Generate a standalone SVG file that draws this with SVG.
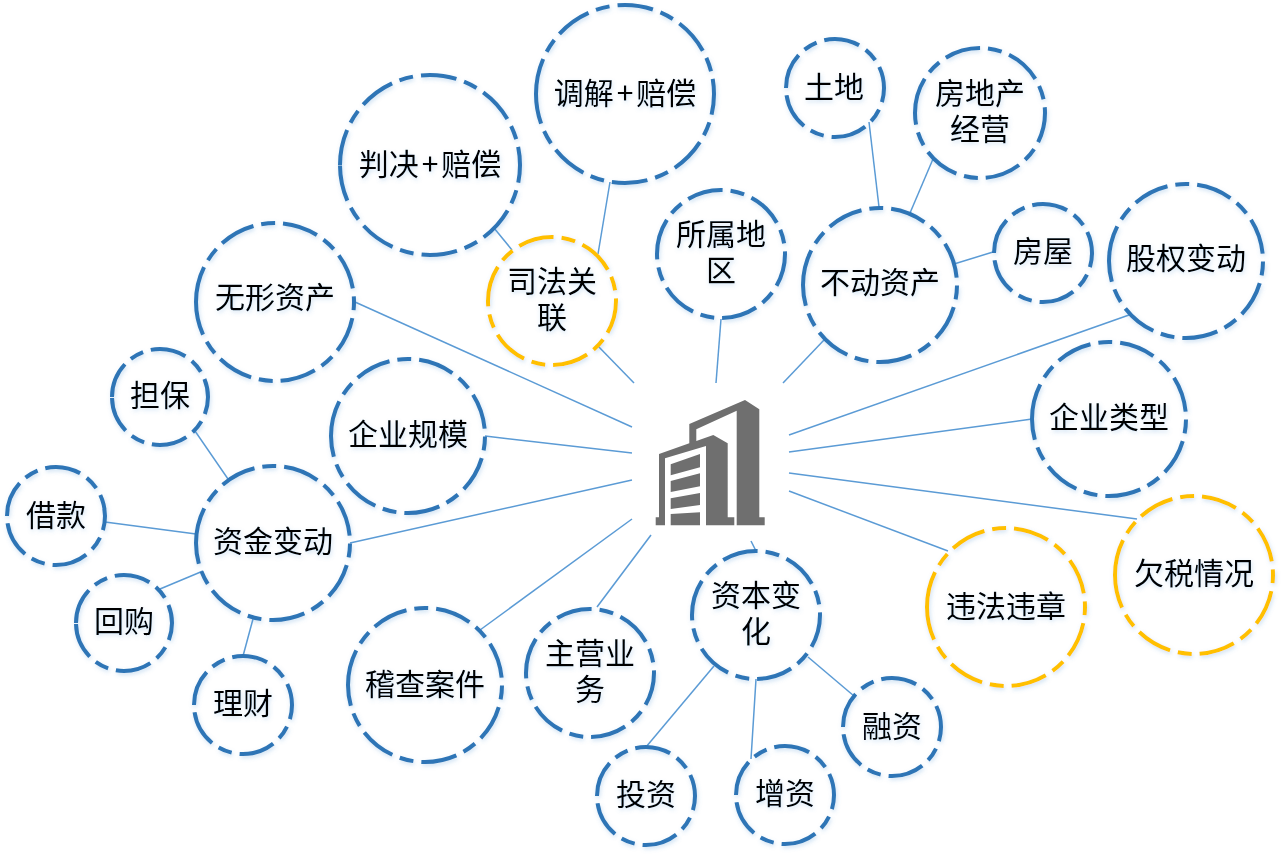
<svg xmlns="http://www.w3.org/2000/svg" width="1282" height="856" viewBox="0 0 1282 856">
<defs><filter id="s" x="-20%" y="-20%" width="140%" height="140%"><feDropShadow dx="1" dy="2" stdDeviation="2" flood-color="#5b9bd5" flood-opacity="0.3"/></filter></defs>
<style>
.n circle{fill:none;stroke:#2e75b6;stroke-width:4;stroke-dasharray:36 8 14 8}
.y circle{stroke:#ffc000}
.n{filter:url(#s)}
.n text{font-family:"Noto Sans CJK SC","Noto Sans",sans-serif;font-size:30px;fill:#000;text-anchor:middle}
#connectors line{stroke:#5b9bd5;stroke-width:1.5;fill:none}
</style>
<rect width="1282" height="856" fill="#fff"/>
<g id="connectors">
<line x1="597" y1="345" x2="634" y2="383"/><line x1="721" y1="319" x2="716" y2="383"/><line x1="824" y1="340" x2="783" y2="383"/><line x1="1129" y1="315" x2="789" y2="435"/><line x1="1032" y1="419" x2="789" y2="452"/><line x1="1137" y1="519" x2="789" y2="473"/><line x1="948" y1="551" x2="789" y2="491"/><line x1="756" y1="551" x2="751" y2="541"/><line x1="597" y1="607" x2="651" y2="535"/><line x1="480" y1="630" x2="632" y2="519"/><line x1="350" y1="543" x2="632" y2="480"/><line x1="485" y1="436" x2="632" y2="453"/><line x1="355" y1="302" x2="632" y2="427"/>
<line x1="494" y1="228" x2="512" y2="250"/><line x1="610" y1="182" x2="598" y2="254"/><line x1="869" y1="122" x2="879" y2="207"/><line x1="933" y1="159" x2="910" y2="213"/><line x1="993" y1="252" x2="954" y2="264"/><line x1="195" y1="431" x2="228" y2="479"/><line x1="105" y1="522" x2="196" y2="534"/><line x1="160" y1="589" x2="203" y2="571"/><line x1="243" y1="656" x2="253" y2="619"/><line x1="646" y1="747" x2="714" y2="666"/><line x1="751" y1="759" x2="756" y2="679"/><line x1="854" y1="696" x2="808" y2="657"/>
</g>
<path id="hub" fill="#6f6f6f" fill-rule="evenodd" d="M655.7 525.3V517.3H659V454L689.3 443.3V424L745 400L759.3 409.3V517.3H764.7V525.3H736.7V410.7L696.3 429.3V441L713.3 435L727.7 443.3V517.3H734.3V525.3H706V446L665 458.3V525.3ZM670.7 464.3L700 454V467.3L670.7 475.3ZM670.7 481L700 473.3V486.3L670.7 492ZM670.7 498.3L700 493V505L670.7 509ZM670.7 514L700 512.3V525.3H670.7Z"/>
<g id="n1" class="n"><circle cx="625" cy="94" r="89" transform="rotate(180 625 94)"/><text x="625" y="104">调解<tspan dx="3">+</tspan><tspan dx="3">赔偿</tspan></text></g>
<g id="n2" class="n"><circle cx="430" cy="165" r="90" transform="rotate(180 430 165)"/><text x="430" y="175">判决<tspan dx="3">+</tspan><tspan dx="3">赔偿</tspan></text></g>
<g id="n3" class="n y"><circle cx="552" cy="301" r="64" transform="rotate(180 552 301)"/><text x="552" y="292">司法关</text><text x="552" y="328">联</text></g>
<g id="n4" class="n"><circle cx="835" cy="88" r="49" transform="rotate(180 835 88)"/><text x="834" y="98">土地</text></g>
<g id="n5" class="n"><circle cx="980" cy="113" r="65" transform="rotate(180 980 113)"/><text x="980" y="104">房地产</text><text x="980" y="140">经营</text></g>
<g id="n6" class="n"><circle cx="721" cy="254" r="64" transform="rotate(180 721 254)"/><text x="721" y="245">所属地</text><text x="721" y="281">区</text></g>
<g id="n7" class="n"><circle cx="880" cy="285" r="77" transform="rotate(180 880 285)"/><text x="880" y="293">不动资产</text></g>
<g id="n8" class="n"><circle cx="1043" cy="253" r="49" transform="rotate(180 1043 253)"/><text x="1043" y="262">房屋</text></g>
<g id="n9" class="n"><circle cx="1186" cy="261" r="77" transform="rotate(180 1186 261)"/><text x="1186" y="269">股权变动</text></g>
<g id="n10" class="n"><circle cx="275" cy="302" r="79" transform="rotate(180 275 302)"/><text x="275" y="308">无形资产</text></g>
<g id="n11" class="n"><circle cx="160" cy="397" r="48" transform="rotate(180 160 397)"/><text x="160" y="406">担保</text></g>
<g id="n12" class="n"><circle cx="408" cy="436" r="77" transform="rotate(180 408 436)"/><text x="408" y="445">企业规模</text></g>
<g id="n13" class="n"><circle cx="1109" cy="419" r="77" transform="rotate(180 1109 419)"/><text x="1109" y="428">企业类型</text></g>
<g id="n14" class="n"><circle cx="273" cy="543" r="77" transform="rotate(180 273 543)"/><text x="273" y="552">资金变动</text></g>
<g id="n15" class="n"><circle cx="56" cy="516" r="49" transform="rotate(180 56 516)"/><text x="56" y="526">借款</text></g>
<g id="n16" class="n"><circle cx="124" cy="623" r="48" transform="rotate(180 124 623)"/><text x="124" y="632">回购</text></g>
<g id="n17" class="n"><circle cx="243" cy="705" r="49" transform="rotate(180 243 705)"/><text x="243" y="714">理财</text></g>
<g id="n18" class="n"><circle cx="425" cy="685" r="77" transform="rotate(180 425 685)"/><text x="425" y="695">稽查案件</text></g>
<g id="n19" class="n"><circle cx="590" cy="673" r="64" transform="rotate(180 590 673)"/><text x="590" y="664">主营业</text><text x="590" y="700">务</text></g>
<g id="n20" class="n"><circle cx="756" cy="615" r="64" transform="rotate(180 756 615)"/><text x="756" y="606">资本变</text><text x="756" y="642">化</text></g>
<g id="n21" class="n"><circle cx="892" cy="727" r="49" transform="rotate(180 892 727)"/><text x="892" y="737">融资</text></g>
<g id="n22" class="n"><circle cx="785" cy="795" r="49" transform="rotate(180 785 795)"/><text x="785" y="804">增资</text></g>
<g id="n23" class="n"><circle cx="646" cy="796" r="49" transform="rotate(180 646 796)"/><text x="646" y="805">投资</text></g>
<g id="n24" class="n y"><circle cx="1006" cy="607" r="79" transform="rotate(180 1006 607)"/><text x="1006" y="617">违法违章</text></g>
<g id="n25" class="n y"><circle cx="1194" cy="575" r="79" transform="rotate(180 1194 575)"/><text x="1194" y="584">欠税情况</text></g>
</svg>
